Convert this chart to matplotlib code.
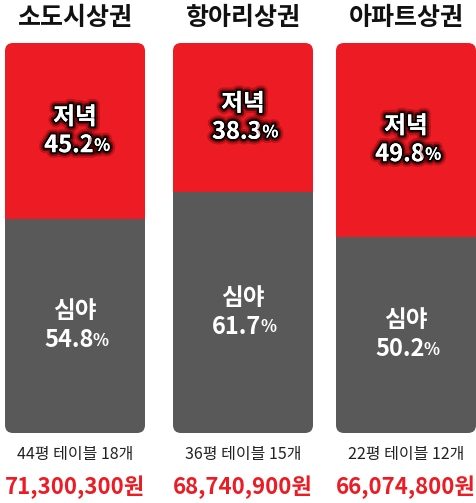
import matplotlib.pyplot as plt
import matplotlib.patheffects as pe
from matplotlib.patches import FancyBboxPatch

plt.rcParams['font.family'] = ['Noto Sans CJK KR', 'DejaVu Sans']

# data
areas = ['소도시상권', '항아리상권', '아파트상권']
evening = [45.2, 38.3, 49.8]
night = [54.8, 61.7, 50.2]
info = ['44평 테이블 18개', '36평 테이블 15개', '22평 테이블 12개']
sales = ['71,300,300원', '68,740,900원', '66,074,800원']

RED = '#ED1C24'
GREY = '#595959'

W, H = 477, 503
fig = plt.figure(figsize=(W / 100, H / 100), dpi=100)
top_px, bot_px = 43, 433
ax = fig.add_axes([0, (H - bot_px) / H, 1, (bot_px - top_px) / H])
ax.set_xlim(0, W)
ax.set_ylim(100, 0)
ax.axis('off')

xs = [75, 243, 406]
bw = 140
ppu = (bot_px - top_px) / 100  # pixels per percent unit

glow = [pe.withStroke(linewidth=8, foreground='#5a0000', alpha=0.3),
        pe.withStroke(linewidth=5, foreground='#300000', alpha=0.55),
        pe.withStroke(linewidth=2.6, foreground='black'),
        pe.Normal()]


def pct_label(x, y, val, effects=None, gap=0.3):
    t = ax.text(x - 6, y, f'{val}', ha='center', va='center', color='white',
                fontsize=17, fontweight='bold', path_effects=effects)
    ax.annotate('%', xy=(1, 0.1), xycoords=t, xytext=(gap, 0), textcoords='offset points',
                ha='left', va='bottom', color='white', fontsize=12,
                fontweight='bold', path_effects=effects, annotation_clip=False)


red_bars = ax.bar(xs, evening, width=bw, color=RED)
grey_bars = ax.bar(xs, night, bottom=evening, width=bw, color=GREY)

for i, x in enumerate(xs):
    clip = FancyBboxPatch((x - bw / 2, 0), bw, 100,
                          boxstyle='round,pad=0,rounding_size=8',
                          mutation_aspect=1 / ppu,
                          facecolor='none', edgecolor='none',
                          transform=ax.transData)
    ax.add_patch(clip)
    red_bars[i].set_clip_path(clip)
    grey_bars[i].set_clip_path(clip)

    # red part labels
    cy = evening[i] / 2
    ax.text(x, cy - 14 / ppu, '저녁', ha='center', va='center', color='white',
            fontsize=17, fontweight='bold', path_effects=glow)
    pct_label(x, cy + 14 / ppu, evening[i], glow)

    # grey part labels
    cy2 = evening[i] + night[i] / 2
    ax.text(x, cy2 - 15 / ppu, '심야', ha='center', va='center', color='white',
            fontsize=17, fontweight='bold')
    pct_label(x, cy2 + 14 / ppu, night[i], gap=-0.7)

    ax.text(x, -6.4, areas[i], ha='center', va='center', color='#111111',
            fontsize=18, fontweight='heavy', clip_on=False)
    ax.text(x, 105.6, info[i], ha='center', va='center', color='#222222',
            fontsize=11.5, clip_on=False)
    ax.text(x, 113.9, sales[i], ha='center', va='center', color=RED,
            fontsize=16, fontweight='bold', clip_on=False)

fig.savefig('out.png', dpi=100, facecolor='white')
